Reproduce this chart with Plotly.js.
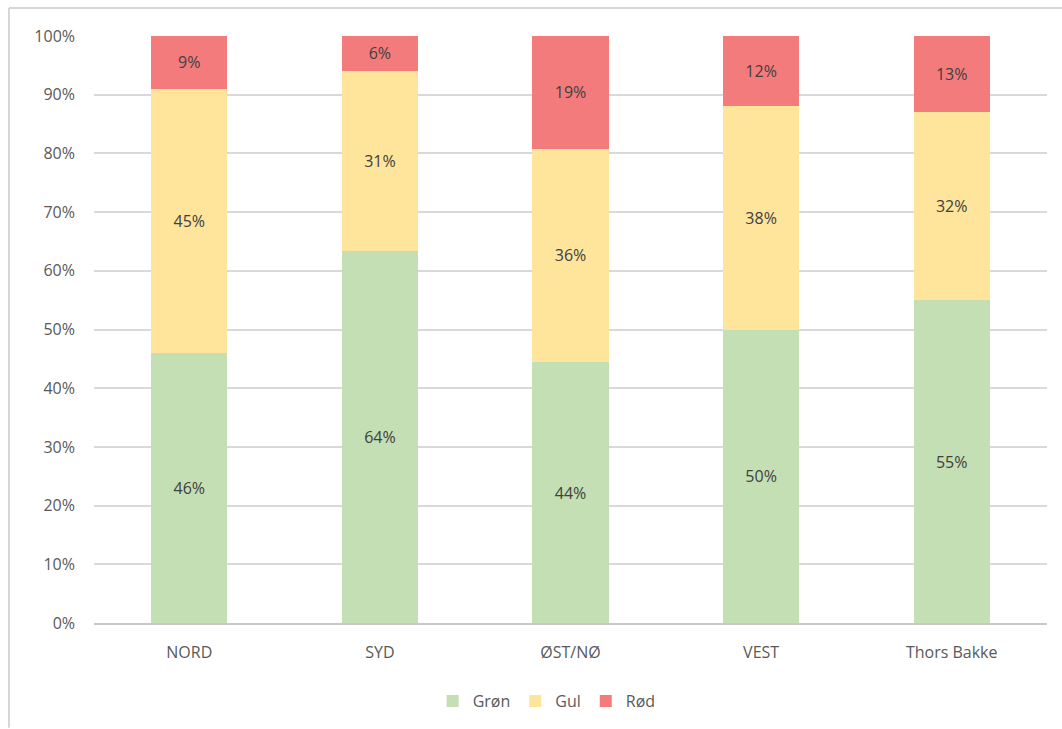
<!DOCTYPE html>
<html>
<head>
<meta charset="utf-8">
<script src="https://cdn.plot.ly/plotly-3.0.1.min.js"></script>
<style>
  html, body { margin: 0; padding: 0; background: #ffffff; }
  #chart { width: 1062px; height: 729px; }
</style>
</head>
<body>
<div id="chart"></div>
<script>
const categories = ["NORD", "SYD", "ØST/NØ", "VEST", "Thors Bakke"];
const gronValues = [46, 64, 44, 50, 55];
const gulValues = [45, 31, 36, 38, 32];
const rodValues = [9, 6, 19, 12, 13];
const yTickValues = [0, 10, 20, 30, 40, 50, 60, 70, 80, 90, 100];
const yTickLabels = ["0%", "10%", "20%", "30%", "40%", "50%", "60%", "70%", "80%", "90%", "100%"];

const fontFamily = "'Open Sans', 'Noto Sans', sans-serif";
const textFont = { family: fontFamily, size: 16, color: "#404040" };

function series(name, values, color) {
  return {
    type: "bar",
    name: name,
    x: categories,
    y: values,
    marker: { color: color },
    text: values.map(v => v + "%"),
    textposition: "inside",
    insidetextanchor: "middle",
    textfont: textFont,
    hoverinfo: "name+y"
  };
}

const data = [
  series("Grøn", gronValues, "#C4DFB3"),
  series("Gul", gulValues, "#FFE49B"),
  series("Rød", rodValues, "#F47B7C")
];

const layout = {
  width: 1062,
  height: 729,
  barmode: "stack",
  barnorm: "percent",
  bargap: 0.6,
  margin: { l: 94, r: 15, t: 36, b: 105 },
  paper_bgcolor: "#ffffff",
  plot_bgcolor: "#ffffff",
  font: { family: fontFamily, color: "#595959", size: 16 },
  showlegend: true,
  legend: {
    orientation: "h",
    x: 0.475,
    xanchor: "center",
    y: -0.131,
    yanchor: "middle",
    font: { family: fontFamily, size: 16, color: "#595959" },
    traceorder: "normal",
    itemwidth: 30
  },
  xaxis: {
    type: "category",
    showgrid: false,
    showline: true,
    linecolor: "#c8c8c8",
    linewidth: 1.5,
    ticks: "",
    ticklabelstandoff: 14,
    tickfont: { family: fontFamily, size: 16, color: "#595959" }
  },
  yaxis: {
    range: [0, 100],
    tickvals: yTickValues,
    ticktext: yTickLabels,
    showgrid: true,
    gridcolor: "#d9d9d9",
    gridwidth: 1.5,
    zeroline: false,
    showline: false,
    ticks: "",
    ticklabelstandoff: 18,
    tickfont: { family: fontFamily, size: 16, color: "#595959" }
  },
  shapes: [
    { type: "line", xref: "paper", yref: "paper",
      x0: (9 - 94) / 953, x1: (1062 - 94) / 953, y0: (624 - 8) / 588, y1: (624 - 8) / 588,
      line: { color: "#d6d6d6", width: 2 } },
    { type: "line", xref: "paper", yref: "paper",
      x0: (9 - 94) / 953, x1: (9 - 94) / 953, y0: (624 - 8) / 588, y1: (624 - 729) / 588,
      line: { color: "#d6d6d6", width: 2 } }
  ]
};

Plotly.newPlot("chart", data, layout, { displayModeBar: false, responsive: false });
</script>
</body>
</html>
